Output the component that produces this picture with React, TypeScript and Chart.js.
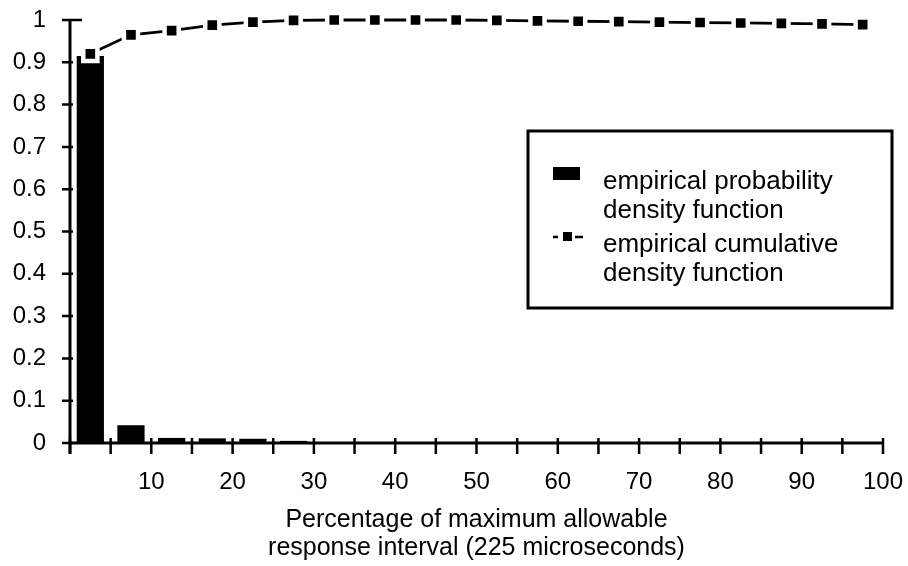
import React, { useEffect, useRef } from 'react';
import { Chart, registerables } from 'chart.js';

Chart.register(...registerables);

// Bin centres (percentage of maximum allowable response interval)
const binCenters = [2.5, 7.5, 12.5, 17.5, 22.5, 27.5, 32.5, 37.5, 42.5, 47.5, 52.5, 57.5, 62.5, 67.5, 72.5, 77.5, 82.5, 87.5, 92.5, 97.5];
// Empirical probability density function (bars)
const pdfValues = [0.915, 0.042, 0.012, 0.011, 0.010, 0.005, 0.001, 0, 0, 0, 0, 0, 0, 0, 0, 0, 0, 0, 0, 0];
// Empirical cumulative density function (line with squares)
const cdfValues = [0.92, 0.965, 0.975, 0.988, 0.995, 0.999, 1.0, 1.0, 1.0, 1.0, 0.999, 0.998, 0.997, 0.996, 0.995, 0.994, 0.993, 0.992, 0.991, 0.989];

const xTickMarks = [0, 5, 10, 15, 20, 25, 30, 35, 40, 45, 50, 55, 60, 65, 70, 75, 80, 85, 90, 95, 100];
const xTickLabels = ['', '10', '20', '30', '40', '50', '60', '70', '80', '90', '100'];
const yTickMarks = [0, 0.1, 0.2, 0.3, 0.4, 0.5, 0.6, 0.7, 0.8, 0.9, 1];
const yTickLabels = ['0', '0.1', '0.2', '0.3', '0.4', '0.5', '0.6', '0.7', '0.8', '0.9', '1'];

const seriesNames = ['empirical probability density function', 'empirical cumulative density function'];
const legendLines = [
  ['empirical probability', 'density function'],
  ['empirical cumulative', 'density function'],
];
const xAxisTitle = ['Percentage of maximum allowable', 'response interval (225 microseconds)'];

const FONT = '"Liberation Sans", Arial, Helvetica, sans-serif';

const paperPlugin = {
  id: 'paperAxes',
  afterDatasetsDraw(chart: any) {
    const { ctx } = chart;
    const xs = chart.scales.x;
    const ys = chart.scales.y;
    const x0 = xs.getPixelForValue(0);
    const x1 = xs.getPixelForValue(100);
    const y0 = ys.getPixelForValue(0);
    const y1 = ys.getPixelForValue(1);
    ctx.save();
    ctx.strokeStyle = '#000';
    ctx.lineCap = 'butt';
    ctx.lineWidth = 3;
    ctx.beginPath();
    ctx.moveTo(x0 - 1, y0);
    ctx.lineTo(x1 + 1, y0);
    ctx.stroke();
    ctx.beginPath();
    ctx.moveTo(x0, y1);
    ctx.lineTo(x0, y0 + 11);
    ctx.stroke();
    ctx.lineWidth = 2.5;
    ctx.beginPath();
    for (const v of xTickMarks) {
      const px = xs.getPixelForValue(v);
      ctx.moveTo(px, y0 - 5);
      ctx.lineTo(px, y0 + 11);
    }
    for (const v of yTickMarks) {
      const py = ys.getPixelForValue(v);
      ctx.moveTo(x0 - 8, py);
      ctx.lineTo(x0 + (v === 1 ? 12 : 3), py);
    }
    ctx.stroke();
    ctx.restore();
  },
  afterDraw(chart: any) {
    const { ctx } = chart;
    ctx.save();
    // legend box
    ctx.strokeStyle = '#000';
    ctx.lineWidth = 3;
    ctx.strokeRect(528, 131, 364, 177);
    // bar swatch
    ctx.fillStyle = '#000';
    ctx.fillRect(553, 167, 27, 13);
    // line swatch: - ■ -
    ctx.lineWidth = 2.5;
    ctx.beginPath();
    ctx.moveTo(553, 237);
    ctx.lineTo(558, 237);
    ctx.moveTo(575, 237);
    ctx.lineTo(583, 237);
    ctx.stroke();
    ctx.fillRect(563, 232, 9, 9);
    // texts
    ctx.font = `26px ${FONT}`;
    ctx.textAlign = 'left';
    ctx.textBaseline = 'middle';
    ctx.fillText(legendLines[0][0], 603, 182);
    ctx.fillText(legendLines[0][1], 603, 211);
    ctx.fillText(legendLines[1][0], 603, 245);
    ctx.fillText(legendLines[1][1], 603, 274);
    ctx.restore();
  },
};

export default function App() {
  const canvasRef = useRef<HTMLCanvasElement | null>(null);

  useEffect(() => {
    document.body.style.margin = '0';
    const canvas = canvasRef.current;
    if (!canvas) return;
    const chart = new Chart(canvas, {
      type: 'bar',
      data: {
        datasets: [
          {
            type: 'line',
            label: seriesNames[1],
            data: binCenters.map((x, i) => ({ x, y: cdfValues[i] })),
            borderColor: '#000',
            borderWidth: 2.8,
            pointStyle: 'rect',
            pointRadius: 10,
            pointBackgroundColor: '#000',
            pointBorderColor: '#fff',
            pointBorderWidth: 4.5,
            tension: 0,
            fill: false,
            clip: false,
            order: 0,
          } as any,
          {
            type: 'bar',
            label: seriesNames[0],
            data: binCenters.map((x, i) => ({ x, y: pdfValues[i] })),
            backgroundColor: '#000',
            borderWidth: 0,
            barPercentage: 0.67,
            categoryPercentage: 1,
            order: 1,
          } as any,
        ],
      },
      options: {
        animation: false,
        responsive: true,
        maintainAspectRatio: false,
        layout: { padding: { top: 20, right: 25, left: 0, bottom: 0 } },
        plugins: {
          legend: { display: false },
          tooltip: { enabled: false },
        },
        scales: {
          x: {
            type: 'linear',
            min: 0,
            max: 100,
            offset: false,
            grid: { display: false, offset: false, drawTicks: false },
            border: { display: false },
            afterFit: (s: any) => {
              s.height = 123;
              s.paddingLeft = 0;
              s.paddingRight = 0;
            },
            ticks: {
              stepSize: 10,
              autoSkip: false,
              maxRotation: 0,
              padding: 25,
              color: '#000',
              font: { family: FONT, size: 24 },
              callback: (_v: any, i: number) => xTickLabels[i] ?? '',
            },
            title: {
              display: true,
              text: xAxisTitle,
              color: '#000',
              font: { family: FONT, size: 25, lineHeight: 1.12 },
              padding: { top: 0, bottom: 4 },
            },
          },
          y: {
            type: 'linear',
            min: 0,
            max: 1,
            grid: { display: false, drawTicks: false },
            border: { display: false },
            afterFit: (s: any) => {
              s.width = 70;
              s.paddingTop = 0;
              s.paddingBottom = 0;
            },
            ticks: {
              stepSize: 0.1,
              autoSkip: false,
              padding: 24,
              color: '#000',
              font: { family: FONT, size: 24 },
              callback: (_v: any, i: number) => yTickLabels[i] ?? '',
            },
          },
        },
      },
      plugins: [paperPlugin],
    } as any);
    return () => chart.destroy();
  }, []);

  return (
    <div style={{ position: 'absolute', left: 0, top: 0, width: 908, height: 566, background: '#fff' }}>
      <canvas ref={canvasRef} />
    </div>
  );
}
